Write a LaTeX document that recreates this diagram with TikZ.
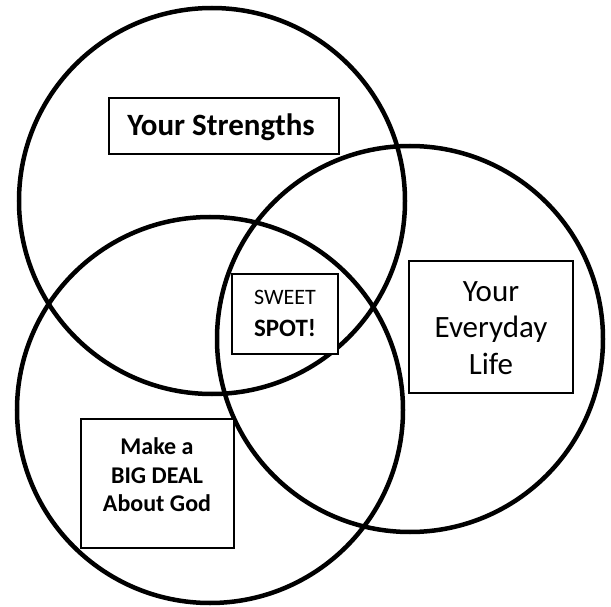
\documentclass[tikz,border=0pt]{standalone}
\usepackage{fontspec}
\setmainfont{Carlito}
\begin{document}
\begin{tikzpicture}[x=1pt,y=-1pt,
  ring/.style={draw=black,line width=4.5pt},
  label box/.style={draw=black,line width=1.8pt,fill=white,inner sep=0pt},
  label text/.style={align=center,inner sep=0pt}]
\useasboundingbox (0,0) rectangle (611,607);
\fill[white] (0,0) rectangle (611,607);
\draw[ring] (212,201) circle (193);
\draw[ring] (410,339) circle (193);
\draw[ring] (210,410) circle (193);
\node[label box,minimum width=230pt,minimum height=56pt] (str) at (224,126) {};
\node[label text,font=\bfseries\fontsize{31}{36}\selectfont] (strt) at (221,127) {Your Strengths};
\node[label box,minimum width=106pt,minimum height=80pt] (sweet) at (285,314) {};
\node[label text,font=\fontsize{22}{26}\selectfont] (sweett) at (285,297) {SWEET};
\node[label text,font=\bfseries\fontsize{25}{30}\selectfont] (spott) at (285,328) {SPOT!};
\node[label box,minimum width=164pt,minimum height=132pt] (life) at (491,327) {};
\node[label text,font=\fontsize{31}{36.5}\selectfont] (lifet) at (491,328) {Your\\Everyday\\Life};
\node[label box,minimum width=153pt,minimum height=129pt] (god) at (157.5,483.5) {};
\node[label text,font=\bfseries\fontsize{24}{28.5}\selectfont] (godt) at (157,475) {Make a\\BIG DEAL\\About God};
\end{tikzpicture}
\end{document}
